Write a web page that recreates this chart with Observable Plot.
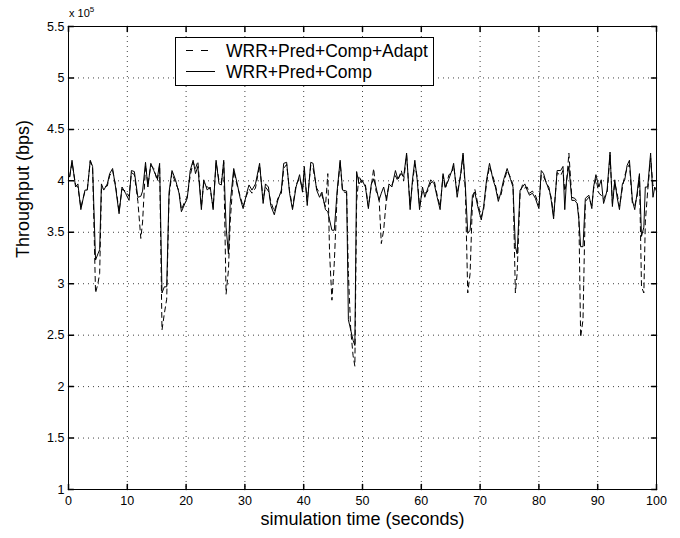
<!DOCTYPE html>
<html>
<head>
<meta charset="utf-8">
<script src="https://cdn.jsdelivr.net/npm/d3@7"></script>
<script src="https://cdn.jsdelivr.net/npm/@observablehq/plot@0.6"></script>
<style>
  html, body { margin: 0; padding: 0; background: #fff; }
  #chart { width: 680px; height: 538px; }
</style>
</head>
<body>
<div id="chart"></div>
<script>
// simulation time (s)
const times = [
  0.2, 0.6, 1.2, 1.6, 2.1, 2.8, 3.2, 3.7, 4.1, 4.6, 5.0, 5.3, 5.6, 6.0, 6.6, 7.0, 7.5, 8.0, 8.6, 9.1,
  9.7, 10.3, 10.7, 11.2, 11.8, 12.3, 12.6, 13.1, 13.5, 14.0, 14.5, 15.1, 15.5, 15.9, 16.3, 16.7, 17.1, 17.6, 18.2, 18.8,
  19.2, 19.8, 20.2, 20.7, 21.2, 21.6, 22.0, 22.6, 23.0, 23.6, 24.1, 24.6, 25.1, 25.6, 26.0, 26.4, 26.8, 27.2, 27.5, 28.1,
  28.7, 29.2, 29.7, 30.3, 30.7, 31.2, 31.8, 32.5, 33.1, 33.5, 34.0, 34.4, 35.0, 35.6, 36.2, 36.6, 37.1, 37.6, 38.1, 38.7,
  39.3, 39.8, 40.1, 40.6, 41.2, 41.6, 42.2, 42.7, 43.1, 43.7, 44.1, 44.4, 44.8, 45.2, 45.7, 46.2, 46.6, 47.3, 47.6, 48.0,
  48.4, 48.7, 49.0, 49.4, 49.9, 50.5, 51.0, 51.5, 51.9, 52.3, 52.8, 53.2, 53.6, 54.1, 54.5, 55.0, 55.6, 56.0, 56.6, 57.0,
  57.5, 58.1, 58.5, 58.9, 59.3, 59.7, 60.2, 60.6, 61.0, 61.6, 62.2, 62.7, 63.2, 63.7, 64.1, 64.7, 65.2, 65.5, 66.1, 66.7,
  67.1, 67.5, 67.9, 68.3, 68.7, 69.1, 69.6, 70.2, 70.6, 71.1, 71.6, 72.2, 72.6, 73.1, 73.5, 74.0, 74.6, 75.2, 75.6, 76.0,
  76.3, 76.8, 77.2, 77.6, 78.0, 78.4, 78.9, 79.4, 80.0, 80.4, 80.8, 81.3, 81.7, 82.1, 82.5, 83.1, 83.7, 84.1, 84.4, 84.7,
  85.1, 85.6, 86.1, 86.5, 86.8, 87.1, 87.5, 87.9, 88.5, 89.0, 89.3, 89.7, 90.2, 90.6, 91.0, 91.3, 91.6, 92.1, 92.5, 92.9,
  93.3, 93.7, 94.2, 94.6, 95.0, 95.4, 95.9, 96.3, 96.7, 97.1, 97.45, 97.85, 98.1, 98.5, 99.0, 99.4, 99.7, 100
];
// throughput, x 10^5 bps — WRR+Pred+Comp (solid)
const compValues = [
  4.04, 4.20, 3.94, 3.97, 3.72, 3.91, 3.91, 4.20, 4.14, 3.23, 3.29, 3.33, 3.97, 3.91, 3.97, 4.07, 4.12, 3.94, 3.68, 3.94,
  3.88, 3.81, 4.10, 4.09, 3.84, 3.85, 3.90, 4.18, 3.94, 4.17, 4.10, 4.02, 4.17, 2.91, 2.97, 2.97, 3.89, 4.10, 4.01, 3.88,
  3.70, 3.78, 3.83, 4.10, 4.20, 4.07, 4.14, 3.72, 4.01, 3.91, 3.94, 3.72, 4.20, 3.97, 3.96, 4.20, 3.55, 3.29, 3.78, 4.12,
  3.97, 3.83, 3.73, 3.88, 3.96, 3.91, 3.97, 4.17, 3.78, 3.97, 3.94, 3.76, 3.67, 3.81, 3.91, 4.17, 4.18, 3.88, 3.72, 3.94,
  4.06, 3.89, 4.14, 3.76, 4.18, 4.17, 3.91, 3.84, 3.89, 3.72, 3.70, 3.62, 3.52, 3.52, 3.91, 4.20, 3.91, 3.90, 2.65, 2.55,
  2.45, 2.40, 4.09, 3.97, 4.01, 3.94, 3.73, 3.97, 4.02, 3.94, 3.81, 3.88, 3.94, 3.81, 3.97, 3.94, 4.10, 4.02, 4.07, 4.04,
  4.27, 3.72, 4.01, 4.20, 4.01, 3.72, 3.94, 3.84, 3.91, 4.01, 3.97, 3.84, 3.72, 4.07, 3.94, 4.02, 4.10, 4.17, 3.84, 4.07,
  4.27, 3.94, 3.49, 3.52, 3.86, 3.89, 3.75, 3.62, 3.75, 4.01, 4.17, 4.01, 3.94, 3.80, 3.88, 4.01, 4.12, 4.01, 3.94, 3.36,
  3.29, 3.91, 3.94, 3.97, 3.91, 3.86, 3.88, 3.83, 3.73, 4.10, 4.07, 3.97, 3.94, 3.81, 3.63, 4.10, 4.10, 4.14, 3.72, 4.01,
  4.14, 3.81, 3.81, 3.78, 3.62, 3.36, 3.36, 3.83, 3.86, 3.73, 3.94, 4.06, 3.94, 4.01, 3.78, 3.84, 3.91, 4.28, 3.75, 4.01,
  3.84, 3.72, 3.97, 4.01, 4.15, 4.20, 3.81, 3.72, 3.88, 4.07, 3.46, 3.55, 3.94, 3.94, 4.27, 3.84, 3.94, 3.90
];
// throughput, x 10^5 bps — WRR+Pred+Comp+Adapt (dashed)
const adaptValues = [
  4.04, 4.18, 3.96, 3.94, 3.74, 3.90, 3.92, 4.19, 4.12, 2.91, 3.00, 3.10, 3.92, 3.94, 3.95, 4.05, 4.10, 3.96, 3.70, 3.92,
  3.90, 3.85, 4.08, 4.06, 3.80, 3.44, 3.60, 4.15, 3.96, 4.15, 4.12, 4.00, 4.15, 2.55, 2.71, 2.85, 3.85, 4.08, 3.98, 3.90,
  3.72, 3.80, 3.85, 4.05, 4.18, 4.12, 4.19, 3.75, 3.98, 3.94, 3.92, 3.74, 4.18, 4.00, 3.98, 4.18, 2.90, 3.13, 3.60, 4.10,
  3.95, 3.85, 3.75, 3.86, 3.92, 3.88, 3.93, 4.15, 3.82, 3.94, 3.90, 3.80, 3.70, 3.83, 3.88, 4.12, 4.16, 3.90, 3.74, 3.96,
  4.03, 3.92, 4.10, 3.80, 4.15, 4.12, 3.93, 3.88, 3.86, 3.75, 4.07, 3.30, 2.84, 3.20, 3.88, 4.18, 3.90, 3.88, 3.10, 2.55,
  2.30, 2.20, 3.80, 4.05, 3.98, 3.96, 3.75, 3.95, 4.12, 3.90, 3.85, 3.39, 3.52, 3.85, 3.95, 3.96, 4.05, 4.00, 4.10, 4.00,
  4.25, 3.76, 3.98, 4.16, 4.04, 3.75, 3.90, 3.88, 3.89, 3.98, 4.00, 3.86, 3.75, 4.05, 3.92, 4.06, 4.08, 4.15, 3.88, 4.05,
  4.25, 3.90, 2.91, 3.10, 3.80, 3.92, 3.78, 3.65, 3.72, 3.98, 4.14, 4.04, 3.96, 3.83, 3.85, 3.98, 4.10, 4.03, 3.96, 2.91,
  3.10, 3.88, 3.96, 3.93, 3.94, 3.88, 3.90, 3.86, 3.76, 4.06, 4.04, 3.98, 3.91, 3.84, 3.66, 4.08, 4.05, 4.10, 3.90, 3.98,
  4.27, 3.84, 3.83, 3.80, 3.65, 2.48, 2.65, 3.80, 3.84, 3.76, 3.92, 4.02, 3.88, 3.86, 3.82, 3.86, 3.88, 4.25, 3.78, 3.98,
  3.88, 3.75, 3.93, 4.05, 4.12, 4.16, 3.78, 3.76, 3.85, 4.05, 2.97, 2.91, 3.60, 3.90, 4.22, 3.95, 3.97, 3.97
];
const seriesNames = ["WRR+Pred+Comp+Adapt", "WRR+Pred+Comp"];
const seriesDash = ["5,4", null];
const legendDash = ["7,8", null];
const xTicks = [0, 10, 20, 30, 40, 50, 60, 70, 80, 90, 100];
const yTicks = [1, 1.5, 2, 2.5, 3, 3.5, 4, 4.5, 5, 5.5];
const xLabel = "simulation time (seconds)";
const yLabel = "Throughput (bps)";

const data = times.map((t, i) => ({t, adapt: adaptValues[i], comp: compValues[i]}));

const tickShape = { draw(ctx, l) { ctx.moveTo(0, 0); ctx.lineTo(0, -l); } };
const font = "'Liberation Sans', Arial, Helvetica, sans-serif";

const chart = Plot.plot({
  width: 680,
  height: 538,
  marginLeft: 68,
  marginRight: 24,
  marginTop: 26,
  marginBottom: 49,
  x: {domain: [0, 100]},
  y: {domain: [1, 5.5]},
  style: {fontFamily: font, background: "#fff", color: "#000"},
  marks: [
    Plot.gridX(xTicks, {stroke: "#000", strokeOpacity: 0.75, strokeDasharray: "1,4"}),
    Plot.gridY(yTicks, {stroke: "#000", strokeOpacity: 0.75, strokeDasharray: "1,4"}),
    Plot.axisX(xTicks, {tickSize: 0, tickPadding: 7, fontSize: 12.5, tickFormat: d => String(d), label: null}),
    Plot.axisY(yTicks, {tickSize: 0, tickPadding: 4, fontSize: 12.5, tickFormat: d => String(d), label: null}),
    Plot.vector(xTicks, {x: d => d, y: 1, length: 5, anchor: "start", shape: tickShape, stroke: "#000"}),
    Plot.vector(xTicks, {x: d => d, y: 5.5, length: 5, rotate: 180, anchor: "start", shape: tickShape, stroke: "#000"}),
    Plot.vector(yTicks, {x: 0, y: d => d, length: 5, rotate: 90, anchor: "start", shape: tickShape, stroke: "#000"}),
    Plot.vector(yTicks, {x: 100, y: d => d, length: 5, rotate: -90, anchor: "start", shape: tickShape, stroke: "#000"}),
    Plot.line(data, {x: "t", y: "adapt", stroke: "#000", strokeWidth: 1, strokeDasharray: seriesDash[0]}),
    Plot.line(data, {x: "t", y: "comp", stroke: "#000", strokeWidth: 1}),
    Plot.frame({stroke: "#000", strokeWidth: 1}),
    Plot.text([xLabel], {frameAnchor: "bottom", dy: 35, fontSize: 18, fill: "#000"}),
    Plot.text([yLabel], {frameAnchor: "left", dx: -45, rotate: -90, fontSize: 18, fill: "#000"})
  ]
});

document.getElementById("chart").appendChild(chart);

// exponent label and legend
const svg = d3.select(chart);
const exp = svg.append("text")
  .attr("x", 69).attr("y", 17).attr("text-anchor", "start")
  .attr("font-family", font).attr("font-size", 11).attr("fill", "#000")
  .text("x 10");
exp.append("tspan").attr("dy", -5).attr("font-size", 8).text("5");

const lg = svg.append("g").attr("text-anchor", "start");
lg.append("rect")
  .attr("x", 175.5).attr("y", 37.5).attr("width", 258).attr("height", 48)
  .attr("fill", "#fff").attr("stroke", "#000");
seriesNames.forEach((name, i) => {
  const yy = 50 + i * 21;
  lg.append("line")
    .attr("x1", 186).attr("x2", 215).attr("y1", yy + 0.5).attr("y2", yy + 0.5)
    .attr("stroke", "#000").attr("stroke-width", 1)
    .attr("stroke-dasharray", legendDash[i]);
  lg.append("text")
    .attr("x", 226).attr("y", yy + 6.5).attr("text-anchor", "start")
    .attr("font-family", font).attr("font-size", 17.5).attr("fill", "#000")
    .text(name);
});
</script>
</body>
</html>
